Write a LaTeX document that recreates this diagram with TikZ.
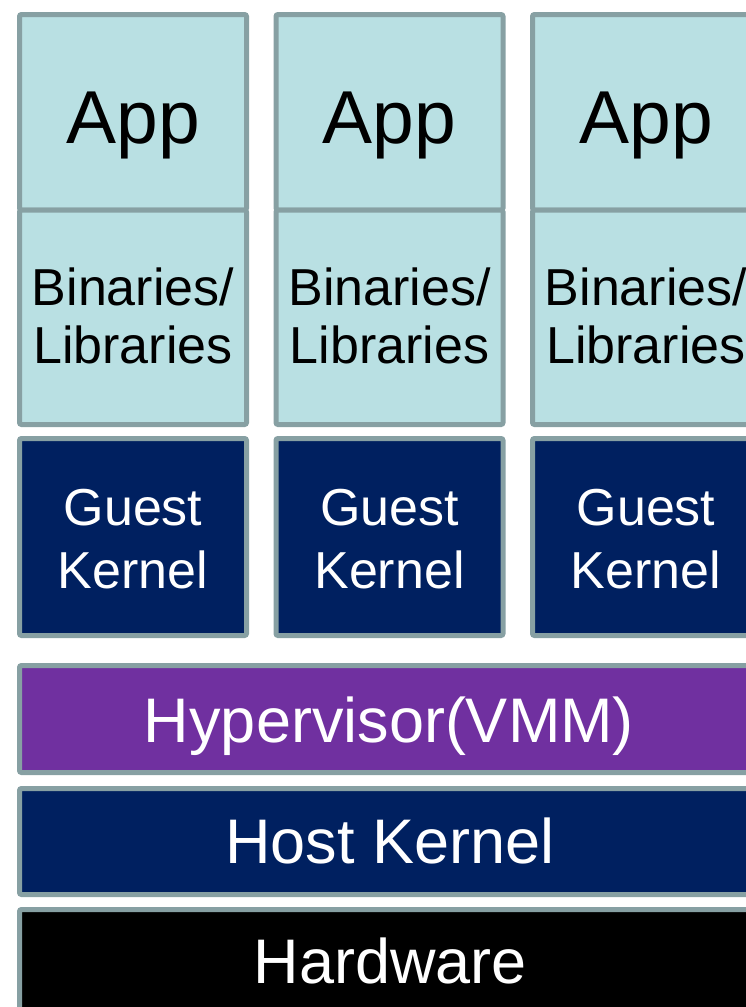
\documentclass[tikz,border=0pt]{standalone}
\usepackage{fontspec}
\setmainfont{Liberation Sans}
\definecolor{edge}{RGB}{135,160,163}
\definecolor{lightfill}{RGB}{185,224,227}
\definecolor{navy}{RGB}{0,32,96}
\definecolor{purp}{RGB}{112,48,160}
\tikzset{
  layer/.style={draw=edge, line width=5pt, rounded corners=2pt, rectangle, outer sep=0pt, inner sep=0pt},
  appbox/.style={layer, fill=lightfill, minimum width=227pt},
  gkbox/.style={layer, fill=navy, minimum width=227pt, minimum height=197pt},
  wide/.style={layer, minimum width=741pt},
  lbl/.style={anchor=base, inner sep=0pt, outer sep=0pt},
  big/.style={lbl, font=\fontsize{75}{90}\selectfont, text=black},
  mid/.style={lbl, font=\fontsize{52}{62}\selectfont},
  wlbl/.style={lbl, font=\fontsize{63}{75}\selectfont, text=white},
}
\begin{document}
\begin{tikzpicture}[x=1pt,y=-1pt]
\useasboundingbox (0,0) rectangle (746,1007);
\clip (0,0) rectangle (746,1007);
\foreach \i/\cx in {1/133, 2/389.5, 3/646} {
  \node[appbox, minimum height=195.5pt] (app\i) at (\cx,112.25) {};
  \node[appbox, minimum height=214.5pt] (bin\i) at (\cx,317.25) {};
  \node[gkbox] (gk\i) at (\cx,537) {};
  \node[big] (appt\i) at (\cx,143) {App};
  \node[mid, text=black] (bint\i) at (\cx,305) {Binaries/};
  \node[mid, text=black] (libt\i) at (\cx,363) {Libraries};
  \node[mid, text=white] (gt\i) at (\cx,525) {Guest};
  \node[mid, text=white] (kt\i) at (\cx,588) {Kernel};
}
\node[wide, fill=purp, minimum height=107pt] (hyp) at (390,719) {};
\node[wide, fill=navy, minimum height=106pt] (host) at (390,841.5) {};
\node[wide, fill=black, minimum height=120.5pt] (hw) at (390,969.75) {};
\node[wlbl] (hypt) at (389,742) {Hypervisor(VMM)};
\node[wlbl] (hostt) at (390,863) {Host Kernel};
\node[wlbl] (hwt) at (390.5,983) {Hardware};
\end{tikzpicture}
\end{document}
